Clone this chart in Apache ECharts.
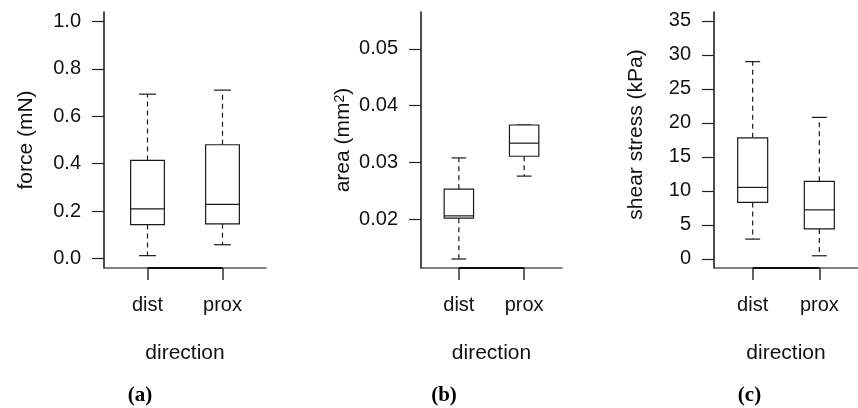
<!DOCTYPE html>
<html>
<head>
<meta charset="utf-8">
<script src="https://cdn.jsdelivr.net/npm/echarts@6/dist/echarts.min.js"></script>
<style>
  html, body { margin: 0; padding: 0; background: #fff; }
  #chart { width: 858px; height: 408px; }
</style>
</head>
<body>
<div id="chart"></div>
<script>
// ---- data (five-number summaries: min, Q1, median, Q3, max) ----
const categories = ['dist', 'prox'];
const forceDist = [0.013, 0.144, 0.210, 0.414, 0.693];
const forceProx = [0.059, 0.147, 0.229, 0.480, 0.710];
const areaDist = [0.0130, 0.0202, 0.0206, 0.0253, 0.0308];
const areaProx = [0.0276, 0.0311, 0.0334, 0.0366, 0.0366];
const shearDist = [2.9, 8.3, 10.5, 17.8, 29.0];
const shearProx = [0.45, 4.4, 7.2, 11.4, 20.8];
const forceTicks = [0, 0.2, 0.4, 0.6, 0.8, 1.0];
const areaTicks = [0.02, 0.03, 0.04, 0.05];
const shearTicks = [0, 5, 10, 15, 20, 25, 30, 35];
const catPositions = [1, 2];
const panelLabels = ['(a)', '(b)', '(c)'];
const xTitle = 'direction';

const FONT = "'Liberation Sans', Arial, Helvetica, sans-serif";
const SERIF = "bold 21px 'Liberation Serif', 'DejaVu Serif', serif";

const panels = [
  { grid: { left: 104, top: 12, width: 162, height: 256 }, ymin: -0.039, ymax: 1.039,
    ticks: forceTicks, fmt: v => v.toFixed(1), name: 'force (mN)', namePad: [0, 0, 0, 0],
    series: [forceDist, forceProx], labelX: 140 },
  { grid: { left: 421, top: 12, width: 141, height: 256 }, ymin: 0.01142, ymax: 0.0565,
    ticks: areaTicks, fmt: v => v.toFixed(2), name: 'area (mm{sup|2})', namePad: [0, 0, 0, 0],
    series: [areaDist, areaProx], labelX: 444 },
  { grid: { left: 714, top: 12, width: 153, height: 256 }, ymin: -1.35, ymax: 36.3,
    ticks: shearTicks, fmt: v => String(v), name: 'shear stress (kPa)', namePad: [0, 0, 0, 11],
    series: [shearDist, shearProx], labelX: 749.5 }
];

function renderBox(params, api) {
  const x = api.value(0);
  const vmin = api.value(1), q1 = api.value(2), med = api.value(3), q3 = api.value(4), vmax = api.value(5);
  const pMin = api.coord([x, vmin]);
  const pQ1 = api.coord([x, q1]);
  const pMed = api.coord([x, med]);
  const pQ3 = api.coord([x, q3]);
  const pMax = api.coord([x, vmax]);
  const cx = pMed[0];
  const hw = api.size([0.225, 0])[0];
  const cap = hw / 2;
  const stroke = '#1a1a1a';
  const solid = { stroke: stroke, lineWidth: 1.2, fill: null };
  const dashed = { stroke: stroke, lineWidth: 1.2, lineDash: [5, 4], fill: null };
  return {
    type: 'group',
    children: [
      { type: 'line', shape: { x1: cx, y1: pQ3[1], x2: cx, y2: pMax[1] }, style: dashed },
      { type: 'line', shape: { x1: cx, y1: pQ1[1], x2: cx, y2: pMin[1] }, style: dashed },
      { type: 'line', shape: { x1: cx - cap, y1: pMax[1], x2: cx + cap, y2: pMax[1] }, style: solid },
      { type: 'line', shape: { x1: cx - cap, y1: pMin[1], x2: cx + cap, y2: pMin[1] }, style: solid },
      { type: 'rect', shape: { x: cx - hw, y: pQ3[1], width: 2 * hw, height: pQ1[1] - pQ3[1] },
        style: { stroke: stroke, lineWidth: 1.2, fill: '#fff' } },
      { type: 'line', shape: { x1: cx - hw, y1: pMed[1], x2: cx + hw, y2: pMed[1] }, style: solid }
    ]
  };
}

const option = {
  backgroundColor: '#fff',
  animation: false,
  grid: panels.map(p => Object.assign({ containLabel: false }, p.grid)),
  xAxis: panels.map((p, i) => ({
    type: 'value', gridIndex: i, min: 0.42, max: 2.58,
    splitLine: { show: false },
    axisLine: { show: true, onZero: false, lineStyle: { color: '#555', width: 1.5 } },
    axisTick: { show: true, customValues: catPositions, length: 12, inside: false,
      lineStyle: { color: '#333', width: 1.5 } },
    axisLabel: { show: true, customValues: catPositions, margin: 27,
      formatter: v => categories[Math.round(v) - 1], color: '#111', fontSize: 20, fontFamily: FONT },
    name: xTitle, nameLocation: 'middle', nameGap: 75,
    nameTextStyle: { color: '#111', fontSize: 21, fontFamily: FONT }
  })),
  yAxis: panels.map((p, i) => ({
    type: 'value', gridIndex: i, min: p.ymin, max: p.ymax,
    splitLine: { show: false },
    axisLine: { show: true, onZero: false, lineStyle: { color: '#111', width: 1.5 } },
    axisTick: { show: true, customValues: p.ticks, length: 12, inside: false,
      lineStyle: { color: '#222', width: 1.2 } },
    axisLabel: { show: true, customValues: p.ticks, margin: 23, formatter: p.fmt,
      color: '#111', fontSize: 20, fontFamily: FONT },
    name: p.name, nameLocation: 'middle', nameGap: 67,
    nameTextStyle: { color: '#111', fontSize: 21, fontFamily: FONT, padding: p.namePad,
      rich: { sup: { fontSize: 14, fontFamily: FONT, color: '#111', verticalAlign: 'top', padding: [0, 0, 6, 0] } } }
  })),
  series: panels.flatMap((p, i) => [
    {
      type: 'custom', xAxisIndex: i, yAxisIndex: i,
      renderItem: renderBox,
      encode: { x: 0, y: [1, 2, 3, 4, 5] },
      data: p.series.map((s, k) => [catPositions[k]].concat(s)),
      silent: true
    },
    {
      type: 'line', xAxisIndex: i, yAxisIndex: i, silent: true, clip: false,
      symbol: 'none',
      lineStyle: { color: '#111', width: 2.2 },
      data: [[catPositions[0], p.ymin], [catPositions[catPositions.length - 1], p.ymin]]
    }
  ]),
  graphic: panels.map((p, i) => ({
    type: 'text', x: p.labelX, y: 396,
    style: { text: panelLabels[i], font: SERIF, fill: '#000', textAlign: 'center', textVerticalAlign: 'middle' }
  }))
};

const chart = echarts.init(document.getElementById('chart'), null, { renderer: 'canvas' });
chart.setOption(option);
</script>
</body>
</html>
